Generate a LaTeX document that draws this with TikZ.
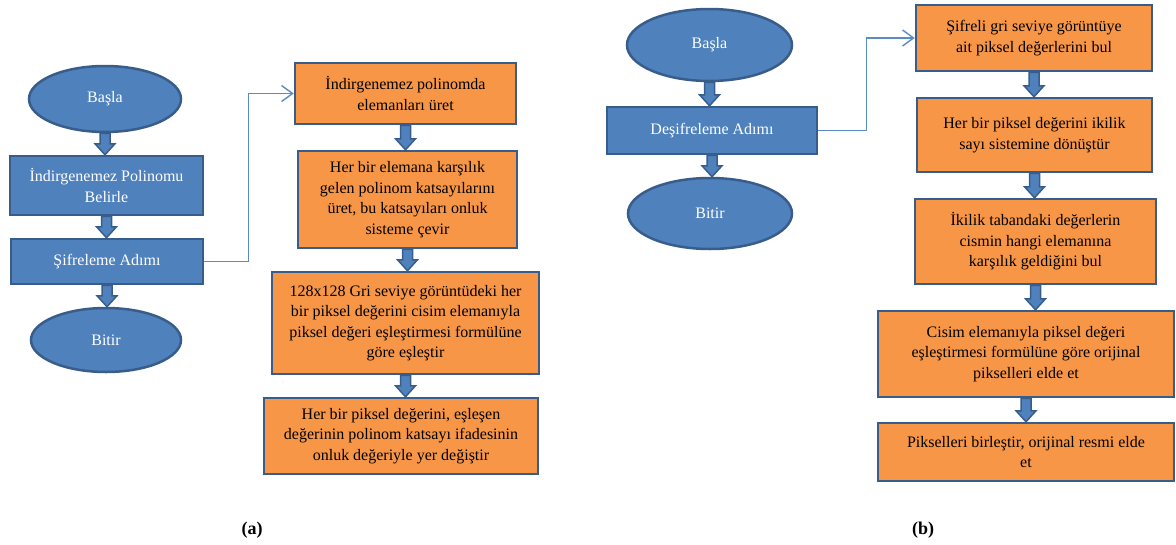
\documentclass[tikz,border=0pt]{standalone}
\usepackage{fontspec}
\setmainfont{Liberation Serif}
\usetikzlibrary{shapes.geometric,arrows.meta,calc}
\definecolor{bfill}{HTML}{4F81BD}
\definecolor{bdraw}{HTML}{385D8A}
\definecolor{ofill}{HTML}{F79646}
\definecolor{lnk}{HTML}{5B8BC6}
\newcommand\flowarrow[2]{%
  \draw[blockarr] let \p1=(#1.south), \p2=(#2.north) in
    (\x1-5pt,\y1) -- (\x1-5pt,\y2+11pt) -- (\x1-10pt,\y2+11pt) -- (\x1,\y2)
    -- (\x1+10pt,\y2+11pt) -- (\x1+5pt,\y2+11pt) -- (\x1+5pt,\y1) -- cycle;}
\begin{document}
\begin{tikzpicture}[x=1pt,y=-1pt,
  base/.style={draw=bdraw, line width=2.5pt, inner sep=0pt, align=center,
    font=\fontsize{16}{20.5}\selectfont},
  startend/.style={base, ellipse, fill=bfill, text=white},
  procbox/.style={base, rectangle, fill=bfill, text=white},
  obox/.style={base, rectangle, fill=ofill, text=black},
  blockarr/.style={draw=bdraw, fill=bfill, line width=1.5pt, line join=miter},
  link/.style={draw=lnk, line width=1.4pt, -{Straight Barb[length=11pt,width=16pt]}},
  caption/.style={font=\bfseries\fontsize{18}{21}\selectfont}]
\useasboundingbox (0,0) rectangle (1176,544);
% (a)
\node[startend, minimum width=152pt, minimum height=66pt] (s1) at (105,99) {Başla};
\node[procbox, minimum width=193pt, minimum height=59pt] (b1) at (106.5,185.5) {İndirgenemez Polinomu\\Belirle};
\node[procbox, minimum width=192pt, minimum height=45pt] (b2) at (107,261.5) {Şifreleme Adımı};
\node[startend, minimum width=150pt, minimum height=64pt] (e1) at (106,340) {Bitir};
\node[obox, minimum width=221pt, minimum height=61pt] (o1) at (405.5,93.5) {İndirgenemez polinomda\\elemanları üret};
\node[obox, minimum width=219pt, minimum height=97pt] (o2) at (407.5,199.5) {Her bir elemana karşılık\\gelen polinom katsayılarını\\üret, bu katsayıları onluk\\sisteme çevir};
\node[obox, minimum width=267pt, minimum height=102pt] (o3) at (405.5,323) {128x128 Gri seviye görüntüdeki her\\bir piksel değerini cisim elemanıyla\\piksel değeri eşleştirmesi formülüne\\göre eşleştir};
\node[obox, minimum width=274pt, minimum height=76pt] (o4) at (401,436) {Her bir piksel değerini, eşleşen\\değerinin polinom katsayı ifadesinin\\onluk değeriyle yer değiştir};
\flowarrow{s1}{b1}
\flowarrow{b1}{b2}
\flowarrow{b2}{e1}
\flowarrow{o1}{o2}
\flowarrow{o2}{o3}
\flowarrow{o3}{o4}
\draw[link] (b2.east) -- ++(44,0) |- (o1.west);
% (b)
\node[startend, minimum width=165pt, minimum height=72pt] (s2) at (709.5,45) {Başla};
\node[procbox, minimum width=210pt, minimum height=47pt] (b3) at (712,130.5) {Deşifreleme Adımı};
\node[startend, minimum width=164pt, minimum height=71pt] (e2) at (710,213.5) {Bitir};
\node[obox, minimum width=236pt, minimum height=66pt] (r1) at (1034,38) {Şifreli gri seviye görüntüye\\ait piksel değerlerini bul};
\node[obox, minimum width=235pt, minimum height=74pt] (r2) at (1034.5,135) {Her bir piksel değerini ikilik\\sayı sistemine dönüştür};
\node[obox, minimum width=241pt, minimum height=85pt] (r3) at (1035.5,241.5) {İkilik tabandaki değerlerin\\cismin hangi elemanına\\karşılık geldiğini bul};
\node[obox, minimum width=296pt, minimum height=86pt] (r4) at (1026,354) {Cisim elemanıyla piksel değeri\\eşleştirmesi formülüne göre orijinal\\pikselleri elde et};
\node[obox, minimum width=296pt, minimum height=58pt] (r5) at (1026,452) {Pikselleri birleştir, orijinal resmi elde\\et};
\flowarrow{s2}{b3}
\flowarrow{b3}{e2}
\flowarrow{r1}{r2}
\flowarrow{r2}{r3}
\flowarrow{r3}{r4}
\flowarrow{r4}{r5}
\draw[link] (b3.east) -- ++(48,0) |- (r1.west);
% captions
\node[caption] (la) at (252,530) {(a)};
\node[caption] (lb) at (923,530) {(b)};
\end{tikzpicture}
\end{document}
